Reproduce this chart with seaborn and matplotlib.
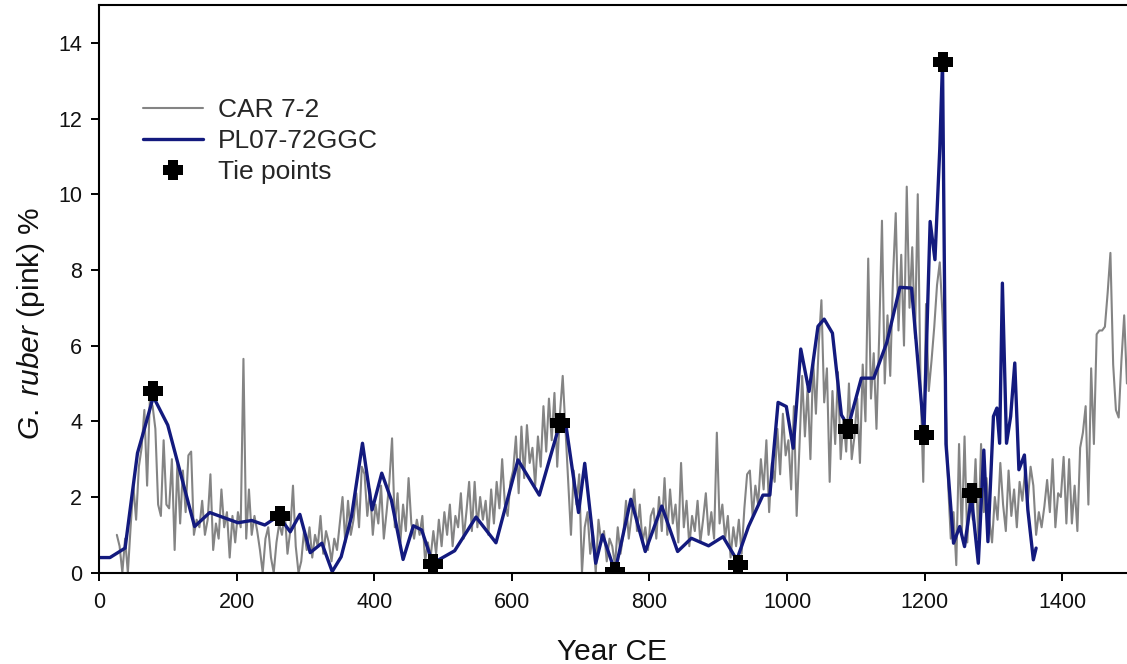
import numpy as np
import pandas as pd
import matplotlib
matplotlib.use("Agg")
import matplotlib.pyplot as plt
from matplotlib.path import Path
import seaborn as sns

# CAR 7-2 record, sampled every 4 years from 26 CE
car_years = np.arange(26, 1500, 4)
car_values = [
    1.0, 0.7, 0.0, 0.9, 0.0, 1.2, 2.3, 1.4, 2.8, 3.3,
    4.3, 2.3, 4.6, 4.4, 3.8, 1.8, 1.5, 3.5, 1.8, 1.7,
    3.0, 0.6, 2.9, 1.3, 2.7, 1.6, 3.1, 3.2, 1.0, 1.4,
    1.2, 1.9, 1.0, 1.4, 2.6, 0.6, 1.3, 0.9, 2.2, 1.2,
    1.6, 0.4, 1.5, 0.8, 1.6, 1.2, 5.65, 0.9, 2.2, 1.0,
    1.5, 1.1, 0.6, 0.0, 0.9, 1.2, 0.4, 0.0, 0.8, 1.3,
    1.0, 1.6, 0.5, 1.1, 2.3, 0.7, 0.0, 0.3, 1.1, 0.6,
    1.2, 0.4, 1.0, 0.7, 1.5, 0.5, 1.1, 0.8, 0.3, 0.9,
    0.6, 1.3, 2.0, 0.8, 1.9, 1.0, 1.4, 2.1, 1.2, 2.8,
    2.6, 1.5, 2.2, 1.0, 1.8, 1.3, 2.3, 0.9, 1.6, 2.4,
    3.55, 1.2, 2.1, 0.8, 1.8, 1.1, 2.5, 1.3, 0.9, 1.4,
    1.0, 1.5, 0.3, 0.8, 0.4, 1.1, 0.5, 1.4, 0.7, 1.6,
    1.0, 1.8, 0.7, 1.5, 1.2, 2.1, 0.9, 1.6, 2.4, 1.1,
    2.4, 1.2, 2.0, 1.4, 1.9, 1.0, 2.2, 1.3, 2.4, 1.7,
    3.0, 1.8, 1.5, 2.4, 2.7, 3.6, 2.1, 3.86, 2.5, 3.9,
    2.9, 3.3, 2.3, 3.6, 2.8, 4.4, 3.2, 4.6, 3.5, 4.75,
    2.8, 4.2, 5.2, 3.8, 2.4, 1.0, 2.7, 1.8, 2.6, 0.0,
    1.2, 1.6, 0.5, 1.0, 0.0, 1.4, 0.8, 1.1, 0.3, 0.9,
    0.7, 0.2, 1.2, 0.5, 1.0, 1.9, 0.9, 1.5, 2.2, 1.1,
    1.8, 0.8, 1.2, 0.6, 1.5, 1.7, 0.9, 2.0, 1.1, 2.5,
    1.0, 2.2, 1.3, 1.8, 0.8, 2.9, 1.2, 1.9, 0.7, 1.5,
    1.1, 1.9, 0.8, 1.4, 2.1, 1.0, 1.6, 0.9, 3.7, 1.3,
    1.8, 0.9, 1.5, 0.4, 1.2, 0.7, 1.4, 0.5, 1.7, 2.6,
    2.7, 1.5, 2.3, 1.8, 3.0, 2.2, 3.5, 1.6, 2.9, 2.4,
    3.8, 2.6, 4.2, 3.1, 3.5, 2.2, 4.4, 1.5, 3.3, 5.2,
    3.6, 4.9, 3.0, 5.6, 4.2, 6.0, 7.2, 4.5, 5.4, 2.4,
    4.8, 3.4, 5.3, 3.0, 4.1, 3.2, 5.0, 3.0, 3.6, 4.6,
    2.9, 5.5, 4.0, 8.3, 4.6, 5.8, 3.8, 6.3, 9.3, 5.0,
    6.8, 5.2, 7.8, 9.5, 6.4, 8.4, 6.0, 10.2, 7.0, 8.6,
    6.2, 10.0, 5.0, 2.4, 7.1, 4.8, 5.6, 6.5, 7.6, 8.2,
    6.8, 5.0, 2.4, 0.9, 1.6, 0.2, 3.4, 1.0, 3.6, 0.8,
    2.3, 1.4, 3.0, 0.9, 3.4, 1.6, 2.5, 1.4, 0.8, 2.0,
    1.4, 2.9, 1.8, 1.1, 2.7, 1.5, 2.2, 1.2, 2.4, 1.9,
    2.7, 1.9, 2.8, 2.3, 1.0, 1.6, 1.2, 1.75, 2.45, 1.6,
    3.0, 1.2, 2.1, 2.0, 3.06, 1.3, 3.0, 1.3, 2.3, 1.1,
    3.3, 3.7, 4.4, 1.8, 5.4, 3.4, 6.3, 6.4, 6.4, 6.5,
    7.4, 8.45, 5.5, 4.3, 4.1, 5.6, 6.8, 5.0, 5.3,
]

# PL07-72GGC record
pl_years = [
    0, 16, 38, 56, 67, 79, 100, 139, 161, 202, 222, 241, 261, 278, 292,
    307, 324, 339, 352, 367, 383, 397, 411, 425, 442, 457, 469, 485, 517,
    548, 577, 609, 640, 670, 679, 697, 706, 722, 732, 750, 773, 794, 818,
    841, 861, 886, 907, 927, 944, 965, 975, 987, 999, 1009, 1020, 1032,
    1045, 1054, 1066, 1079, 1089, 1108, 1126, 1145, 1164, 1181, 1199,
    1208, 1215, 1222, 1226, 1231, 1242, 1251, 1258, 1268, 1278, 1286,
    1292, 1300, 1305, 1309, 1313, 1319, 1325, 1331, 1337, 1345, 1350,
    1358, 1362,
]
pl_values = [
    0.40, 0.40, 0.65, 3.16, 3.86, 4.65, 3.90, 1.22, 1.59, 1.32, 1.38, 1.26,
    1.50, 1.08, 1.54, 0.53, 0.78, 0.03, 0.42, 1.48, 3.42, 1.66, 2.63, 1.92,
    0.35, 1.24, 1.13, 0.25, 0.58, 1.47, 0.79, 2.98, 2.05, 3.95, 3.86, 1.59,
    2.89, 0.25, 1.00, 0.03, 1.94, 0.56, 1.76, 0.56, 0.91, 0.71, 0.95, 0.34,
    1.22, 2.05, 2.05, 4.50, 4.39, 3.29, 5.91, 4.79, 6.51, 6.70, 6.33, 4.17,
    3.86, 5.14, 5.14, 6.08, 7.54, 7.52, 3.69, 9.28, 8.27, 11.2, 13.5, 3.4,
    0.78, 1.22, 0.69, 2.00, 0.25, 3.24, 0.82, 4.13, 4.35, 3.42, 7.65, 3.42,
    4.13, 5.54, 2.72, 3.11, 1.66, 0.34, 0.65,
]

# Tie points between the two age models
tie_years = [78, 263, 485, 670, 750, 929, 1089, 1199, 1226, 1269]
tie_values = [4.8, 1.5, 0.23, 3.96, 0.02, 0.2, 3.8, 3.64, 13.5, 2.1]

x_ticks = [0, 200, 400, 600, 800, 1000, 1200, 1400]
y_ticks = [0, 2, 4, 6, 8, 10, 12, 14]

car = pd.DataFrame({"year": car_years, "pct": car_values})
pl = pd.DataFrame({"year": pl_years, "pct": pl_values})
ties = pd.DataFrame({"year": tie_years, "pct": tie_values})

# chunky plus sign used for the tie points
a, b = 0.23, 0.5
plus_marker = Path([(-a, b), (a, b), (a, a), (b, a), (b, -a), (a, -a),
                    (a, -b), (-a, -b), (-a, -a), (-b, -a), (-b, a), (-a, a),
                    (-a, b)], closed=True)

sns.set_style("ticks")
plt.rcParams["font.family"] = ["Liberation Sans", "DejaVu Sans"]
plt.rcParams["mathtext.fontset"] = "custom"
plt.rcParams["mathtext.rm"] = "Liberation Sans"
plt.rcParams["mathtext.it"] = "Liberation Sans:italic"

fig = plt.figure(figsize=(11.27, 6.64), dpi=100)
ax = fig.add_axes([0.0878, 0.1375, 0.9158, 0.855])

sns.lineplot(data=car, x="year", y="pct", ax=ax, color="#848484",
             linewidth=1.5, sort=False, estimator=None, label="CAR 7-2")
sns.lineplot(data=pl, x="year", y="pct", ax=ax, color="#131a7e",
             linewidth=2.4, sort=False, estimator=None, label="PL07-72GGC")
sns.lineplot(data=ties, x="year", y="pct", ax=ax, color="black",
             linestyle="none", marker=plus_marker, markersize=15,
             markeredgewidth=0, estimator=None, label="Tie points", zorder=5)

ax.set_xlim(0, 1500)
ax.set_ylim(0, 15)
ax.set_xticks(x_ticks)
ax.set_yticks(y_ticks)
ax.tick_params(axis="both", direction="out", length=6, width=1.4,
               labelsize=15.5, color="black", labelcolor="#111111")
ax.tick_params(axis="x", pad=8)
ax.tick_params(axis="y", pad=6)
for side in ["left", "bottom", "top"]:
    ax.spines[side].set_visible(True)
    ax.spines[side].set_linewidth(1.5)
    ax.spines[side].set_color("black")
ax.spines["right"].set_visible(False)

ax.set_xlabel("Year CE", fontsize=21.5, color="#111111")
ax.set_ylabel(r"$\it{G.\ ruber}$ (pink) %", fontsize=21.5, color="#111111")
ax.xaxis.set_label_coords(0.497, -0.115)
ax.yaxis.set_label_coords(-0.05, 0.44)

ax.legend(loc="upper left", bbox_to_anchor=(0.0325, 0.855), frameon=False,
          fontsize=19, handlelength=2.27, handletextpad=0.57,
          labelspacing=0.27, borderaxespad=0)

fig.savefig("out.png", dpi=100)
